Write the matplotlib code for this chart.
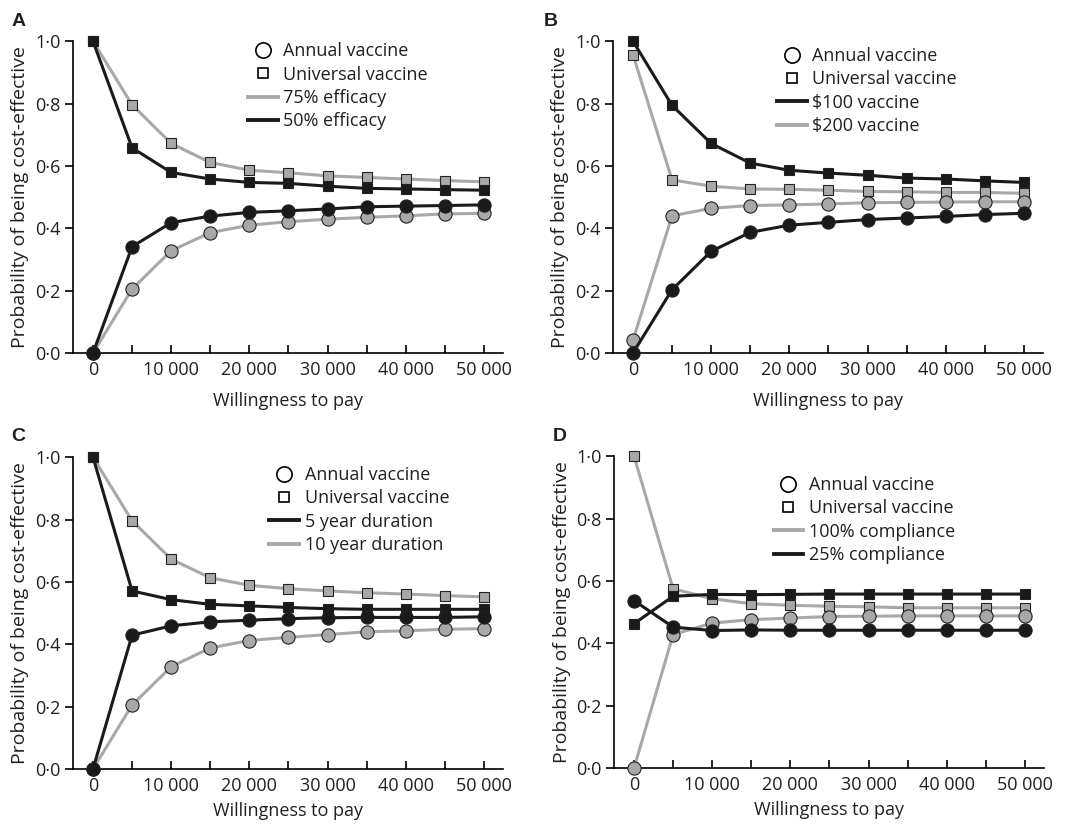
import matplotlib
matplotlib.use("Agg")
from matplotlib import pyplot as plt
from matplotlib.lines import Line2D
import numpy as np

plt.rcParams['font.family'] = ['Open Sans', 'DejaVu Sans']
plt.rcParams['font.size'] = 13
plt.rcParams['text.color'] = '#231f20'
plt.rcParams['axes.labelcolor'] = '#231f20'
plt.rcParams['xtick.labelcolor'] = '#231f20'
plt.rcParams['ytick.labelcolor'] = '#231f20'

wtp = [0, 5000, 10000, 15000, 20000, 25000, 30000, 35000, 40000, 45000, 50000]

# panel A: efficacy
a_univ_75 = [1.0, 0.796, 0.672, 0.611, 0.586, 0.578, 0.568, 0.563, 0.558, 0.553, 0.549]
a_ann_75 = [0.0, 0.205, 0.328, 0.386, 0.410, 0.421, 0.429, 0.435, 0.440, 0.446, 0.448]
a_univ_50 = [1.0, 0.658, 0.579, 0.558, 0.547, 0.544, 0.535, 0.528, 0.526, 0.524, 0.522]
a_ann_50 = [0.0, 0.341, 0.418, 0.439, 0.451, 0.456, 0.462, 0.469, 0.471, 0.473, 0.475]

# panel B: vaccine price
b_univ_100 = [1.0, 0.794, 0.672, 0.609, 0.586, 0.577, 0.570, 0.561, 0.558, 0.552, 0.547]
b_ann_100 = [0.0, 0.203, 0.326, 0.387, 0.410, 0.419, 0.428, 0.433, 0.438, 0.444, 0.448]
b_univ_200 = [0.957, 0.555, 0.535, 0.526, 0.525, 0.522, 0.518, 0.517, 0.515, 0.515, 0.512]
b_ann_200 = [0.041, 0.440, 0.464, 0.473, 0.475, 0.478, 0.482, 0.483, 0.484, 0.485, 0.485]

# panel C: duration
c_univ_10 = [1.0, 0.796, 0.673, 0.613, 0.589, 0.578, 0.571, 0.565, 0.561, 0.556, 0.552]
c_ann_10 = [0.0, 0.205, 0.328, 0.388, 0.412, 0.422, 0.431, 0.440, 0.443, 0.448, 0.450]
c_univ_5 = [1.0, 0.571, 0.543, 0.528, 0.523, 0.518, 0.514, 0.512, 0.512, 0.512, 0.512]
c_ann_5 = [0.0, 0.429, 0.459, 0.472, 0.477, 0.482, 0.485, 0.486, 0.486, 0.486, 0.488]

# panel D: compliance
d_univ_100 = [1.0, 0.575, 0.543, 0.527, 0.522, 0.519, 0.517, 0.514, 0.514, 0.514, 0.514]
d_ann_100 = [0.0, 0.428, 0.465, 0.476, 0.481, 0.486, 0.487, 0.488, 0.488, 0.488, 0.488]
d_univ_25 = [0.463, 0.551, 0.557, 0.556, 0.557, 0.558, 0.558, 0.558, 0.558, 0.558, 0.558]
d_ann_25 = [0.537, 0.452, 0.441, 0.443, 0.442, 0.442, 0.442, 0.442, 0.442, 0.442, 0.442]

GRAY = '#a8a8a8'
BLACK = '#1a1a1a'

# letter, axes rect, series, legend order, legend anchor, xlabel pad, letter pos
panels = [
    ('A', [0.0684, 0.5721, 0.4026, 0.378],
     [(a_univ_75, a_ann_75, GRAY, '75% efficacy'), (a_univ_50, a_ann_50, BLACK, '50% efficacy')],
     ['75% efficacy', '50% efficacy'], (0.39, 1.02), 9, (0.011, 0.968)),
    ('B', [0.5740, 0.5721, 0.4026, 0.378],
     [(b_univ_200, b_ann_200, GRAY, '$200 vaccine'), (b_univ_100, b_ann_100, BLACK, '$100 vaccine')],
     ['$100 vaccine', '$200 vaccine'], (0.365, 1.005), 9, (0.509, 0.968)),
    ('C', [0.0684, 0.0679, 0.4026, 0.378],
     [(c_univ_10, c_ann_10, GRAY, '10 year duration'), (c_univ_5, c_ann_5, BLACK, '5 year duration')],
     ['5 year duration', '10 year duration'], (0.44, 0.995), 5, (0.011, 0.466)),
    ('D', [0.5750, 0.0690, 0.4026, 0.378],
     [(d_univ_100, d_ann_100, GRAY, '100% compliance'), (d_univ_25, d_ann_25, BLACK, '25% compliance')],
     ['100% compliance', '25% compliance'], (0.354, 0.96), 5, (0.518, 0.466)),
]

fig = plt.figure(figsize=(10.68, 8.25), dpi=100)

for letter, pos, series, order, anchor, xpad, lpos in panels:
    ax = fig.add_axes(pos)
    colors = {}
    for univ, ann, col, lab in series:
        ax.plot(wtp, univ, color=col, lw=2.2, marker='s', ms=7.5, mfc=col,
                mec='#222222', mew=0.8, clip_on=False, zorder=3)
        ax.plot(wtp, ann, color=col, lw=2.2, marker='o', ms=9.5, mfc=col,
                mec='#222222', mew=0.8, clip_on=False, zorder=3)
        colors[lab] = col

    ax.set_xlim(-2550, 52450)
    ax.set_ylim(0, 1.0)
    ax.spines['top'].set_visible(False)
    ax.spines['right'].set_visible(False)
    ax.spines['left'].set_linewidth(1.2)
    ax.spines['bottom'].set_linewidth(1.2)

    ax.set_xticks(np.arange(0, 50001, 5000))
    ax.set_xticklabels(['0' if v == 0 else ('%d 000' % (v // 1000) if v % 10000 == 0 else '')
                        for v in range(0, 50001, 5000)])
    ax.set_yticks([0, 0.2, 0.4, 0.6, 0.8, 1.0])
    ax.set_yticklabels(['0·0', '0·2', '0·4', '0·6', '0·8', '1·0'])
    ax.tick_params(axis='x', direction='in', length=6, width=1.2, pad=6)
    ax.tick_params(axis='y', direction='out', length=6, width=1.2, pad=3)

    ax.set_xlabel('Willingness to pay', labelpad=xpad)
    ax.set_ylabel('Probability of being cost-effective', labelpad=4, fontsize=14)

    handles = [
        Line2D([], [], ls='none', marker='o', ms=11, mfc='white', mec='black', mew=1.2),
        Line2D([], [], ls='none', marker='s', ms=7.5, mfc='white', mec='black', mew=1.2),
    ]
    labels = ['Annual vaccine', 'Universal vaccine']
    for lab in order:
        handles.append(Line2D([], [], color=colors[lab], lw=2.8))
        labels.append(lab)
    ax.legend(handles, labels, loc='upper left', bbox_to_anchor=anchor, frameon=False,
              handlelength=1.65, handletextpad=0.3, labelspacing=0.3, borderaxespad=0)

    fig.text(lpos[0], lpos[1], letter, fontsize=14, fontweight='bold',
             family=['Liberation Sans', 'DejaVu Sans'])

fig.savefig('out.png', dpi=100)
